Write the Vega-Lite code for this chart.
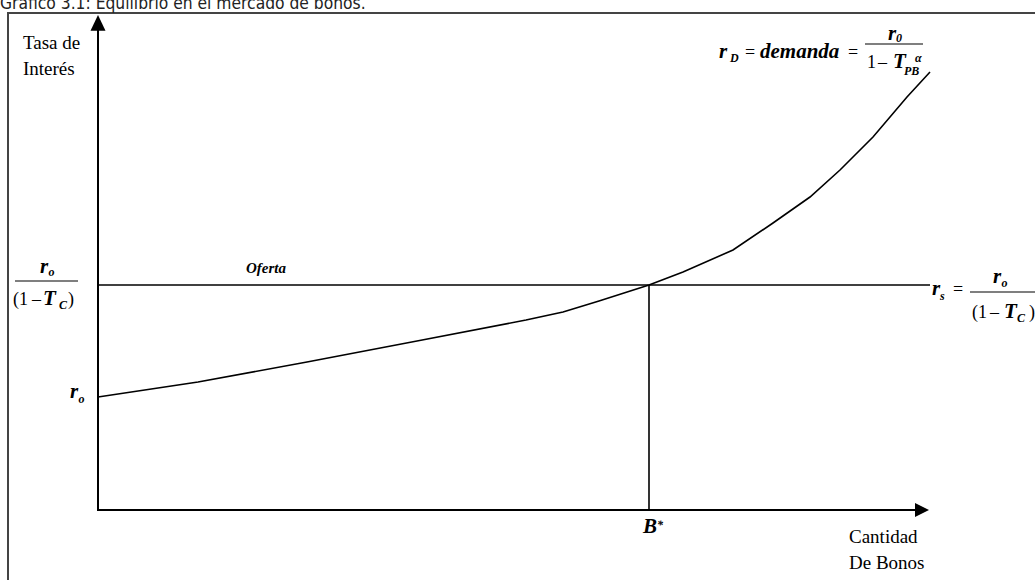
{
  "$schema": "https://vega.github.io/schema/vega-lite/v6.json",
  "width": 1035,
  "height": 580,
  "autosize": {"type": "none"},
  "padding": 0,
  "background": "white",
  "config": {"view": {"stroke": null}},
  "datasets": {
    "marco": [{"x": -9.0, "x2": 105, "y": 99.4, "y2": -20}],
    "ejes": [
      {"i": 0, "x": 0, "y": 96},
      {"i": 1, "x": 0, "y": 0},
      {"i": 2, "x": 81.7, "y": 0}
    ],
    "punta_y": [{"x": 0, "y": 99}],
    "punta_x": [{"x": 83.1, "y": 0}],
    "demanda": [
      {"x": 0, "y": 22.6},
      {"x": 10, "y": 25.6},
      {"x": 20.9, "y": 29.6},
      {"x": 31.9, "y": 33.8},
      {"x": 42.8, "y": 38},
      {"x": 46.5, "y": 39.6},
      {"x": 50.1, "y": 41.8},
      {"x": 55.1, "y": 45},
      {"x": 58.5, "y": 47.6},
      {"x": 63.5, "y": 52},
      {"x": 67.5, "y": 57.4},
      {"x": 71.2, "y": 62.6},
      {"x": 74.2, "y": 68},
      {"x": 77.5, "y": 74.6},
      {"x": 80.9, "y": 82.6},
      {"x": 83.2, "y": 87.6}
    ],
    "oferta": [{"x": 0, "y": 45}, {"x": 83.2, "y": 45}],
    "equilibrio": [{"x": 55.1, "y": 0}, {"x": 55.1, "y": 45}],
    "fracciones": [
      {"x": -8.3, "x2": -2.0, "y": 45.8},
      {"x": 87.2, "x2": 93.7, "y": 43.6},
      {"x": 76.7, "x2": 82.5, "y": 93.2}
    ],
    "rotulos": [
      {"x": -7.5, "y": 92.2, "texto": "Tasa de"},
      {"x": -7.5, "y": 87, "texto": "Interés"},
      {"x": 75.1, "y": -6.6, "texto": "Cantidad"},
      {"x": 75.1, "y": -11.8, "texto": "De Bonos"}
    ],
    "mat_recta": [
      {"x": -8.5, "y": 41, "texto": "(1"},
      {"x": -6.6, "y": 41, "texto": "–"},
      {"x": -3.0, "y": 41, "texto": ")"},
      {"x": 85.5, "y": 43, "texto": "="},
      {"x": 87.4, "y": 38.4, "texto": "(1"},
      {"x": 89.2, "y": 38.4, "texto": "–"},
      {"x": 93.1, "y": 38.4, "texto": ")"},
      {"x": 64.7, "y": 90.4, "texto": "="},
      {"x": 75.0, "y": 90.4, "texto": "="},
      {"x": 76.9, "y": 88.4, "texto": "1"},
      {"x": 78.0, "y": 88.4, "texto": "–"}
    ],
    "mat_cursiva": [
      {"x": -5.8, "y": 47.4, "texto": "r"},
      {"x": -5.5, "y": 41, "texto": "T"},
      {"x": 83.4, "y": 43, "texto": "r"},
      {"x": 89.5, "y": 45.4, "texto": "r"},
      {"x": 90.6, "y": 38.4, "texto": "T"},
      {"x": 62.1, "y": 90.4, "texto": "r"},
      {"x": 66.2, "y": 90.4, "texto": "demanda"},
      {"x": 79.0, "y": 94, "texto": "r"},
      {"x": 79.5, "y": 88.4, "texto": "T"},
      {"x": 54.5, "y": -4.6, "texto": "B"},
      {"x": -2.8, "y": 22.4, "texto": "r"}
    ],
    "mat_indices": [
      {"x": -4.95, "y": 46.8, "texto": "o"},
      {"x": -3.9, "y": 40.2, "texto": "C"},
      {"x": 84.2, "y": 42, "texto": "s"},
      {"x": 90.35, "y": 44.6, "texto": "o"},
      {"x": 91.9, "y": 37.6, "texto": "C"},
      {"x": 63.2, "y": 89.6, "texto": "D"},
      {"x": 80.6, "y": 87, "texto": "PB"},
      {"x": 81.7, "y": 89.6, "texto": "α"},
      {"x": 79.8, "y": 93.6, "texto": "0"},
      {"x": 55.9, "y": -3.8, "texto": "*"},
      {"x": -1.95, "y": 21.4, "texto": "o"}
    ],
    "curvas": [{"x": 14.8, "y": 47.4, "texto": "Oferta"}],
    "titulo": [{"x": -9.8, "y": 100.2, "texto": "Gráfico 3.1: Equilibrio en el mercado de bonos."}]
  },
  "encoding": {
    "x": {"field": "x", "type": "quantitative", "scale": {"domain": [-9.8, 93.7], "nice": false, "zero": false}, "axis": null},
    "y": {"field": "y", "type": "quantitative", "scale": {"domain": [-14, 102], "nice": false, "zero": false}, "axis": null}
  },
  "layer": [
    {
      "data": {"name": "marco"},
      "mark": {"type": "rect", "fill": null, "stroke": "#444444", "strokeWidth": 2},
      "encoding": {"x2": {"field": "x2"}, "y2": {"field": "y2"}}
    },
    {
      "data": {"name": "titulo"},
      "mark": {"type": "text", "align": "left", "baseline": "alphabetic", "font": "DejaVu Sans Condensed", "fontSize": 17.3, "color": "#222222"},
      "encoding": {"text": {"field": "texto"}}
    },
    {
      "data": {"name": "ejes"},
      "mark": {"type": "line", "color": "black", "strokeWidth": 2, "strokeCap": "butt", "strokeJoin": "miter"},
      "encoding": {"order": {"field": "i"}}
    },
    {
      "data": {"name": "punta_y"},
      "mark": {"type": "point", "shape": "M0,0L-1,2.1L1,2.1Z", "size": 225, "filled": true, "color": "black", "opacity": 1}
    },
    {
      "data": {"name": "punta_x"},
      "mark": {"type": "point", "shape": "M0,0L-2,-1L-2,1Z", "size": 196, "filled": true, "color": "black", "opacity": 1}
    },
    {
      "data": {"name": "oferta"},
      "mark": {"type": "line", "color": "black", "strokeWidth": 1.6}
    },
    {
      "data": {"name": "equilibrio"},
      "mark": {"type": "line", "color": "black", "strokeWidth": 1.6},
      "encoding": {"order": {"field": "y"}}
    },
    {
      "data": {"name": "demanda"},
      "mark": {"type": "line", "color": "black", "strokeWidth": 1.6}
    },
    {
      "data": {"name": "fracciones"},
      "mark": {"type": "rule", "color": "black", "strokeWidth": 1.2},
      "encoding": {"x2": {"field": "x2"}}
    },
    {
      "data": {"name": "rotulos"},
      "mark": {"type": "text", "align": "left", "baseline": "alphabetic", "font": "Liberation Serif", "fontSize": 19, "color": "black"},
      "encoding": {"text": {"field": "texto"}}
    },
    {
      "data": {"name": "mat_recta"},
      "mark": {"type": "text", "align": "left", "baseline": "alphabetic", "font": "Liberation Serif", "fontSize": 18, "color": "black"},
      "encoding": {"text": {"field": "texto"}}
    },
    {
      "data": {"name": "mat_cursiva"},
      "mark": {"type": "text", "align": "left", "baseline": "alphabetic", "font": "Liberation Serif", "fontStyle": "italic", "fontWeight": "bold", "fontSize": 21, "color": "black"},
      "encoding": {"text": {"field": "texto"}}
    },
    {
      "data": {"name": "mat_indices"},
      "mark": {"type": "text", "align": "left", "baseline": "alphabetic", "font": "Liberation Serif", "fontStyle": "italic", "fontWeight": "bold", "fontSize": 12, "color": "black"},
      "encoding": {"text": {"field": "texto"}}
    },
    {
      "data": {"name": "curvas"},
      "mark": {"type": "text", "align": "left", "baseline": "alphabetic", "font": "Liberation Serif", "fontStyle": "italic", "fontWeight": "bold", "fontSize": 15, "color": "black"},
      "encoding": {"text": {"field": "texto"}}
    }
  ]
}
